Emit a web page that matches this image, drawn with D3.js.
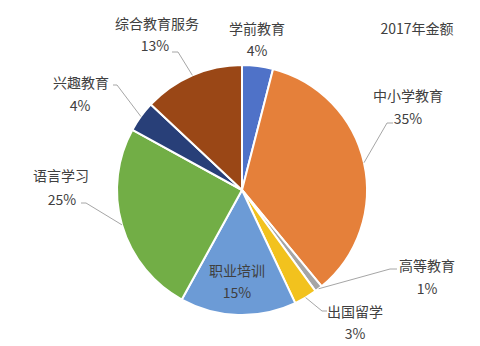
<!DOCTYPE html>
<html>
<head>
<meta charset="utf-8">
<script src="https://cdn.jsdelivr.net/npm/d3@7/dist/d3.min.js"></script>
<style>
  html, body { margin: 0; padding: 0; background: #fff; }
  svg text { font-family: "Noto Sans CJK SC", "Noto Sans", sans-serif; fill: #404040; }
</style>
</head>
<body>
<svg id="chart" width="480" height="346"></svg>
<script>
// 2017 education market share by segment (percent)
const categories = ["学前教育", "中小学教育", "高等教育", "出国留学", "职业培训", "语言学习", "兴趣教育", "综合教育服务"];
const values = [4, 35, 1, 3, 15, 25, 4, 13];
const colors = ["#4F72C8", "#E5803A", "#A5A5A5", "#F2C21E", "#6C9BD6", "#72AE46", "#283F78", "#9A4716"];
const title = "2017年金额";

// label layout: name centre, value centre, and optional leader elbow (label side)
const labelLayout = [
  { nx: 257, ny: 28,  vx: 257, vy: 50 },
  { nx: 408, ny: 95,  vx: 408, vy: 118, lead: [[393, 123], [387, 123]] },
  { nx: 427, ny: 265, vx: 427, vy: 288, lead: [[397, 269], [390, 269]] },
  { nx: 355, ny: 311, vx: 355, vy: 333, lead: [[327, 311], [322, 311]] },
  { nx: 237, ny: 270, vx: 237, vy: 292 },
  { nx: 61,  ny: 175, vx: 62,  vy: 199, lead: [[81, 203], [86, 203]] },
  { nx: 81,  ny: 82,  vx: 80,  vy: 105, lead: [[113, 85], [117, 85]] },
  { nx: 157, ny: 23,  vx: 155, vy: 45,  lead: [[172, 52], [178, 52]] }
];

const svg = d3.select("#chart");
const cx = 242, cy = 190, r = 125;

const data = categories.map((c, i) => ({ name: c, value: values[i], i }));
const pie = d3.pie().value(d => d.value).sort(null);
const arcs = pie(data);
const arc = d3.arc().innerRadius(0).outerRadius(r);

const g = svg.append("g").attr("transform", `translate(${cx},${cy})`);

g.selectAll("path.slice")
  .data(arcs)
  .join("path")
  .attr("class", "slice")
  .attr("d", arc)
  .attr("fill", d => colors[d.data.i])
  .attr("stroke", "#fff")
  .attr("stroke-width", 2)
  .attr("stroke-linejoin", "round");

// leader lines from label elbow to the slice edge at its mid angle
arcs.forEach((a, i) => {
  const L = labelLayout[i];
  if (!L.lead) return;
  const mid = (a.startAngle + a.endAngle) / 2;
  const ex = cx + r * Math.sin(mid);
  const ey = cy - r * Math.cos(mid);
  const pts = L.lead.concat([[ex, ey]]);
  svg.append("path")
    .attr("d", d3.line()(pts))
    .attr("fill", "none")
    .attr("stroke", "#A6A6A6")
    .attr("stroke-width", 1);
});

// category names and percentages
arcs.forEach((a, i) => {
  const L = labelLayout[i];
  svg.append("text")
    .attr("x", L.nx).attr("y", L.ny)
    .attr("text-anchor", "middle")
    .attr("dominant-baseline", "central")
    .attr("font-size", 14)
    .text(a.data.name);
  svg.append("text")
    .attr("x", L.vx).attr("y", L.vy)
    .attr("text-anchor", "middle")
    .attr("dominant-baseline", "central")
    .attr("font-size", 14)
    .text(a.data.value + "%");
});

svg.append("text")
  .attr("x", 417).attr("y", 28)
  .attr("text-anchor", "middle")
  .attr("dominant-baseline", "central")
  .attr("font-size", 14)
  .text(title);
</script>
</body>
</html>
